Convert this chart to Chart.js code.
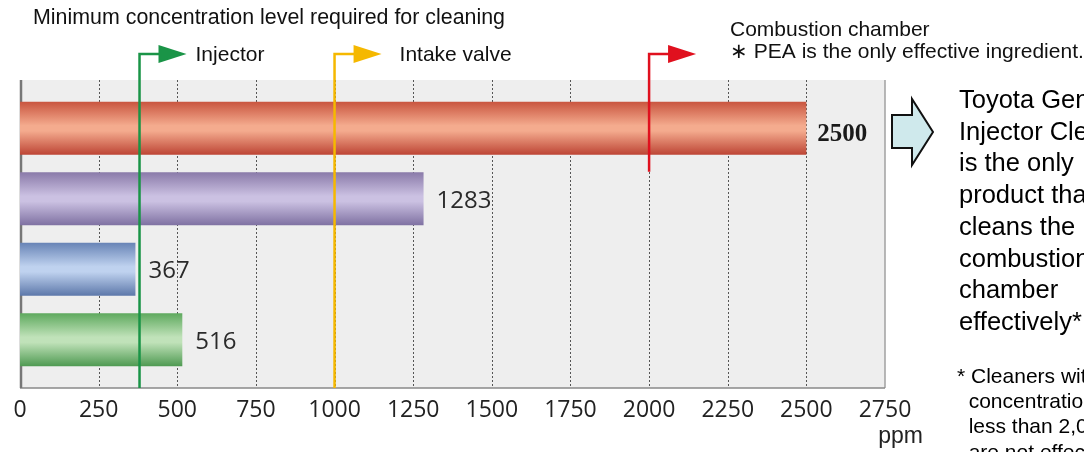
<!DOCTYPE html>
<html>
<head>
<meta charset="utf-8">
<script src="https://cdn.jsdelivr.net/npm/chart.js@4.4.0/dist/chart.umd.min.js"></script>
<style>
    html, body { margin: 0; padding: 0; background: #fff; }
    #wrap { width: 1084px; height: 452px; }
</style>
</head>
<body>
<div id="wrap"><canvas id="GraficaPEA"></canvas></div>
<script>
var Productos = ['Toyota Genuine Injector Cleaner', 'Cleaner A', 'Cleaner B', 'Cleaner C'];
var Concentracion = [2500, 1283, 367, 516];
var Ticks = [0, 250, 500, 750, 1000, 1250, 1500, 1750, 2000, 2250, 2500, 2750];
var Umbrales = [380, 1000, 2000];
var UmbralNombres = ['Injector', 'Intake valve', ''];

var ColoresBarra = [
    ['#c9553f', '#f4ab8e', '#bd4535'],
    ['#8a7aa9', '#cbc1e2', '#7f71a2'],
    ['#6884b6', '#bfd2ef', '#5d78aa'],
    ['#5ea95e', '#c0e2b9', '#4f9a52']
];
var ColoresUmbral = ['#1a9447', '#f5b800', '#e0101e'];

function Degradado(ctx){
    var chart = ctx.chart;
    var i = ctx.dataIndex;
    var col = ColoresBarra[i];
    if(!chart.chartArea){
        return col[1];
    }
    var y = chart.scales.y;
    var centro = y.getPixelForValue(i);
    var alto = (chart.chartArea.bottom - chart.chartArea.top) / Productos.length * 0.75;
    var g = chart.ctx.createLinearGradient(0, centro - alto / 2, 0, centro + alto / 2);
    g.addColorStop(0, col[0]);
    g.addColorStop(0.45, col[1]);
    g.addColorStop(0.55, col[1]);
    g.addColorStop(1, col[2]);
    return g;
}

var Decoracion = {
    id: 'decoracion',
    beforeDatasetsDraw: function(chart){
        var c = chart.ctx;
        var x = chart.scales.x;
        var izq = x.getPixelForValue(Ticks[0]);
        var der = x.getPixelForValue(Ticks[Ticks.length - 1]);
        c.save();
        c.fillStyle = '#eeeeee';
        c.fillRect(izq, 80, der - izq, 308);
        c.strokeStyle = '#555';
        c.lineWidth = 1;
        c.setLineDash([2, 2]);
        Ticks.forEach(function(t, k){
            if(k == 0 || k == Ticks.length - 1) return;
            var px = Math.round(x.getPixelForValue(t)) + 0.5;
            c.beginPath();
            c.moveTo(px, 80);
            c.lineTo(px, 388);
            c.stroke();
        });
        c.setLineDash([]);
        c.strokeStyle = '#a0a0a0';
        c.lineWidth = 1.5;
        c.beginPath();
        c.moveTo(der, 80);
        c.lineTo(der, 388);
        c.stroke();
        c.strokeStyle = '#888';
        c.beginPath();
        c.moveTo(izq, 388);
        c.lineTo(der, 388);
        c.stroke();
        c.strokeStyle = '#777';
        c.lineWidth = 2.5;
        c.beginPath();
        c.moveTo(izq + 1, 80);
        c.lineTo(izq + 1, 388);
        c.stroke();
        c.restore();
    },
    afterDatasetsDraw: function(chart){
        var c = chart.ctx;
        var x = chart.scales.x;
        var meta = chart.getDatasetMeta(0);
        c.save();
        // etiquetas de valores
        c.textBaseline = 'middle';
        c.textAlign = 'left';
        meta.data.forEach(function(bar, i){
            if(i == 0){
                c.font = 'bold 25px "Liberation Serif"';
                c.fillStyle = '#1a1a1a';
                c.fillText(Concentracion[i], bar.x + 11, bar.y + 6);
            }else{
                c.font = '24px "Open Sans"';
                c.fillStyle = '#2a2a2a';
                c.fillText(Concentracion[i], bar.x + 13, bar.y + 2);
            }
        });
        // lineas de umbral con flecha
        var fondos = [388, 388, meta.data[0].y + meta.data[0].height / 2 + 17];
        var separacion = [56, 65, 0];
        c.font = '21px "Liberation Sans"';
        Umbrales.forEach(function(u, i){
            var px = x.getPixelForValue(u);
            c.strokeStyle = ColoresUmbral[i];
            c.fillStyle = ColoresUmbral[i];
            c.lineWidth = 2.5;
            c.beginPath();
            c.moveTo(px, fondos[i]);
            c.lineTo(px, 54);
            c.lineTo(px + 20, 54);
            c.stroke();
            c.beginPath();
            c.moveTo(px + 19, 45);
            c.lineTo(px + 47, 54);
            c.lineTo(px + 19, 63);
            c.closePath();
            c.fill();
            if(UmbralNombres[i]){
                c.fillStyle = '#111';
                c.fillText(UmbralNombres[i], px + separacion[i], 55);
            }
        });
        c.restore();
    },
    afterDraw: function(chart){
        var c = chart.ctx;
        c.save();
        c.fillStyle = '#111';
        c.textBaseline = 'middle';
        c.textAlign = 'left';
        c.font = '21.4px "Liberation Sans"';
        c.fillText('Minimum concentration level required for cleaning', 33, 18);
        c.font = '21px "Liberation Sans"';
        c.fillText('Combustion chamber', 730, 30);
        c.fillText('\u2217 PEA is the only effective ingredient.', 730, 52);

        // flecha hacia el texto
        c.beginPath();
        c.moveTo(892, 115);
        c.lineTo(912, 115);
        c.lineTo(912, 99);
        c.lineTo(933, 132);
        c.lineTo(912, 165);
        c.lineTo(912, 148);
        c.lineTo(892, 148);
        c.closePath();
        c.fillStyle = '#cfe9ec';
        c.fill();
        c.strokeStyle = '#111';
        c.lineWidth = 2;
        c.stroke();

        c.fillStyle = '#000';
        c.font = '25.5px "Liberation Sans"';
        var lineas = ['Toyota Genuine', 'Injector Cleaner', 'is the only', 'product that', 'cleans the', 'combustion', 'chamber', 'effectively*'];
        lineas.forEach(function(l, i){
            c.fillText(l, 959, 101 + i * 31.7);
        });
        c.font = '21px "Liberation Sans"';
        var notas = ['* Cleaners with a', '  concentration of', '  less than 2,000 ppm', '  are not effective.'];
        notas.forEach(function(l, i){
            c.fillText(l, 957, 377 + i * 25.3);
        });

        c.textAlign = 'right';
        c.textBaseline = 'alphabetic';
        c.font = '23px "Liberation Sans"';
        c.fillStyle = '#222';
        c.fillText('ppm', 923, 443);
        c.restore();
    }
};

var ctx = document.getElementById('GraficaPEA');
var GraficaPEA = new Chart(ctx, {
    type: 'bar',
    data: {
        labels: Productos,
        datasets: [
            {
                label: 'ppm',
                data: Concentracion,
                backgroundColor: Degradado,
                borderWidth: 0,
                barPercentage: 0.75,
                categoryPercentage: 1
            }
        ]
    },
    options: {
        indexAxis: 'y',
        responsive: true,
        maintainAspectRatio: false,
        animation: false,
        layout: {
            padding: { left: 20, right: 199, top: 93, bottom: 0 }
        },
        plugins: {
            legend: { display: false },
            tooltip: { enabled: false }
        },
        scales: {
            x: {
                type: 'linear',
                min: Ticks[0],
                max: Ticks[Ticks.length - 1],
                afterFit: function(scale){
                    scale.height = 77;
                    scale.paddingLeft = 0;
                    scale.paddingRight = 0;
                },
                afterBuildTicks: function(scale){
                    scale.ticks = Ticks.map(function(v){ return { value: v }; });
                },
                grid: { display: false, drawTicks: false },
                border: { display: false },
                ticks: {
                    padding: 22,
                    maxRotation: 0,
                    autoSkip: false,
                    color: '#222',
                    font: { family: 'Open Sans', size: 23 },
                    callback: function(v){ return String(v); }
                }
            },
            y: {
                display: false
            }
        }
    },
    plugins: [Decoracion]
});
</script>
</body>
</html>
